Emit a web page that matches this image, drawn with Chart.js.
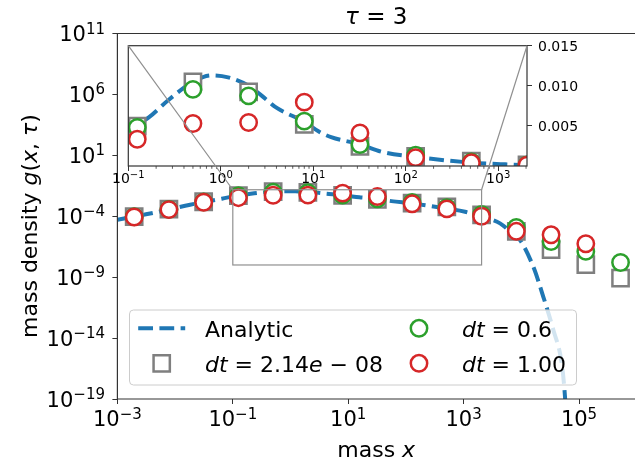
<!DOCTYPE html>
<html>
<head>
<meta charset="utf-8">
<script src="https://cdn.jsdelivr.net/npm/chart.js@4.4.1/dist/chart.umd.min.js"></script>
<style>
    html, body { margin: 0; padding: 0; background: #ffffff; }
    #wrap { position: relative; width: 635px; height: 462px; }
    #wrap canvas { position: absolute; left: 0; top: 0; }
</style>
</head>
<body>
<div id="wrap">
    <canvas id="main-chart" width="635" height="462"></canvas>
    <canvas id="inset-chart" width="635" height="462"></canvas>
</div>
<script>
// -- data --
const massX = [0.001953125, 0.0078125, 0.03125, 0.125, 0.5, 2, 8, 32, 128, 512, 2048, 8192, 32768, 131072, 524288];
const densityDtTiny = [9.5e-5, 3.8e-4, 1.55e-3, 0.00496, 0.0105, 0.00925, 0.0052, 0.00246, 0.00121, 0.0006, 1.3e-4, 5.8e-6, 1.8e-7, 1.05e-8, 8.5e-10];
const densityDt06 = [9.2e-5, 3.7e-4, 1.5e-3, 0.0048, 0.00955, 0.00875, 0.00559, 0.00267, 0.00134, 0.0005, 1.4e-4, 1.2e-5, 8.5e-7, 1.3e-7, 1.6e-8];
const densityDt1 = [8.7e-5, 3.5e-4, 1.4e-3, 0.00334, 0.0053, 0.00542, 0.00796, 0.00413, 0.00105, 0.0004, 1.0e-4, 5.8e-6, 3.0e-6, 5.5e-7, null];

const analyticX = [0.001, 0.00417, 0.0182, 0.0646, 0.125, 0.164, 0.27, 0.5, 0.8, 1.2, 2, 3.1, 3.84, 8, 11.7, 15.6, 32, 56, 128, 512, 1057, 2042, 4276, 8185, 9484, 16140, 24040, 35890, 50120, 57150, 61660];
const analyticG = [5.2e-5, 1.86e-4, 8.9e-4, 2.75e-3, 0.0052, 0.0060, 0.0082, 0.0105, 0.0113, 0.01105, 0.0100, 0.0083, 0.0074, 0.0055, 0.00425, 0.0036, 0.0027, 0.00175, 0.00113, 0.00042, 0.000234, 9.1e-5, 2.6e-5, 1.95e-6, 1.12e-6, 7.1e-9, 2.45e-11, 4.6e-14, 8.3e-17, 1.5e-19, 2.5e-22];

const seriesLabels = ['Analytic', '$dt = 2.14e - 08$', '$dt = 0.6$', '$dt = 1.00$'];

const mainXTicks = [1e-3, 1e-1, 1e1, 1e3, 1e5];
const mainYTicks = [1e-19, 1e-14, 1e-9, 1e-4, 1e1, 1e6, 1e11];
const insetXTicks = [0.1, 1, 10, 100, 1000];
const insetYTicks = [0.005, 0.010, 0.015];

const titleText = '$τ = 3$';
const xTitle = 'mass $x$';
const yTitle = 'mass density $g(x, τ)$';

// axis limits
const mainXMin = 1e-3, mainXMax = Math.pow(10, 5.97);
const mainYMin = 1e-19, mainYMax = 1e11;
const insetXMin = 0.1, insetXMax = 2048;
const insetYMin = 0, insetYMax = 0.015;
const indicatorFloor = 1e-8;

const FONT = '"DejaVu Sans", "Liberation Sans", sans-serif';
const AXIS_COLOR = '#333333';

// -- text helpers --
function fontOf(p) {
    return (p.it ? 'italic ' : '') + p.size + 'px ' + FONT;
}

// "$...$" segments get matplotlib-like math: letters italic, '-' as minus
function textParts(str, size) {
    let parts = [];
    let pieces = str.split('$');
    for (let i = 0; i < pieces.length; i++) {
        if (!pieces[i]) continue;
        if (i % 2 === 0) {
            parts.push({ t: pieces[i], size: size });
        } else {
            let tokens = pieces[i].match(/[A-Za-zτ]+|[^A-Za-zτ]+/g);
            tokens.forEach(function (tok) {
                let isWord = /[A-Za-zτ]/.test(tok);
                parts.push({ t: isWord ? tok : tok.replace(/-/g, '\u2212'), size: size, it: isWord });
            });
        }
    }
    return parts;
}

function powParts(v, size, supSize, raise) {
    let e = Math.round(Math.log10(v));
    let expStr = e < 0 ? '\u2212' + (-e) : String(e);
    return [{ t: '10', size: size }, { t: expStr, size: supSize, dy: -raise }];
}

function drawParts(ctx, parts, x, y, align) {
    let total = 0;
    parts.forEach(function (p) {
        ctx.font = fontOf(p);
        p.w = ctx.measureText(p.t).width;
        total += p.w;
    });
    let cx = align === 'center' ? x - total / 2 : (align === 'right' ? x - total : x);
    ctx.textAlign = 'left';
    ctx.textBaseline = 'alphabetic';
    parts.forEach(function (p) {
        ctx.font = fontOf(p);
        ctx.fillText(p.t, cx, y + (p.dy || 0));
        cx += p.w;
    });
}

function drawMarker(ctx, ds, x, y) {
    let r = ds.pointRadius;
    ctx.save();
    ctx.lineWidth = ds.pointBorderWidth;
    ctx.strokeStyle = ds.pointBorderColor;
    ctx.fillStyle = ds.pointBackgroundColor;
    ctx.beginPath();
    if (ds.pointStyle === 'rect') {
        let h = Math.SQRT1_2 * r;
        ctx.rect(x - h, y - h, 2 * h, 2 * h);
    } else {
        ctx.arc(x, y, r, 0, Math.PI * 2);
    }
    ctx.fill();
    ctx.stroke();
    ctx.restore();
}

function roundedRect(ctx, x, y, w, h, r) {
    ctx.beginPath();
    ctx.moveTo(x + r, y);
    ctx.arcTo(x + w, y, x + w, y + h, r);
    ctx.arcTo(x + w, y + h, x, y + h, r);
    ctx.arcTo(x, y + h, x, y, r);
    ctx.arcTo(x, y, x + w, y, r);
    ctx.closePath();
}

// -- datasets --
function points(xs, ys) {
    let out = [];
    for (let i = 0; i < xs.length; i++) {
        if (ys[i] !== null) out.push({ x: xs[i], y: ys[i] });
    }
    return out;
}

function markerSet(label, ys, color, style, radius) {
    return {
        label: label,
        data: points(massX, ys),
        showLine: false,
        pointStyle: style,
        pointRadius: radius,
        pointHoverRadius: radius,
        pointBorderWidth: 2.5,
        pointHoverBorderWidth: 2.5,
        pointBorderColor: color,
        pointBackgroundColor: '#ffffff',
        clip: 0
    };
}

function buildDatasets() {
    return [
        markerSet(seriesLabels[3], densityDt1, '#d62728', 'circle', 8.2),
        markerSet(seriesLabels[2], densityDt06, '#2ca02c', 'circle', 8.2),
        markerSet(seriesLabels[1], densityDtTiny, '#7f7f7f', 'rect', 11.5),
        {
            label: seriesLabels[0],
            data: points(analyticX, analyticG),
            showLine: true,
            borderColor: '#1f77b4',
            borderWidth: 4,
            borderDash: [14.8, 6.4],
            cubicInterpolationMode: 'monotone',
            pointRadius: 0,
            pointHoverRadius: 0,
            fill: false,
            clip: 0
        }
    ];
}

// legend order: column-major, 2 rows
const legendOrder = [3, 2, 1, 0];

// -- main chart --
const mainPlugin = {
    id: 'mainDecor',
    afterDatasetsDraw: function (chart) {
        let ctx = chart.ctx;
        ctx.save();
        roundedRect(ctx, 129.5, 310, 447, 75, 4);
        ctx.fillStyle = 'rgba(255,255,255,0.8)';
        ctx.fill();
        ctx.strokeStyle = '#cccccc';
        ctx.lineWidth = 1;
        ctx.stroke();

        let colHandle = [161.7, 419];
        let colText = [205, 462];
        let rowY = [328.3, 363.3];
        legendOrder.forEach(function (dsIndex, k) {
            let ds = chart.data.datasets[dsIndex];
            let col = Math.floor(k / 2), row = k % 2;
            let hx = colHandle[col], hy = rowY[row];
            if (ds.showLine) {
                ctx.save();
                ctx.strokeStyle = ds.borderColor;
                ctx.lineWidth = ds.borderWidth;
                ctx.setLineDash(ds.borderDash);
                ctx.beginPath();
                ctx.moveTo(hx - 23.5, hy);
                ctx.lineTo(hx + 23.5, hy);
                ctx.stroke();
                ctx.restore();
            } else {
                drawMarker(ctx, ds, hx, hy);
            }
            ctx.fillStyle = '#000000';
            drawParts(ctx, textParts(ds.label, 22), colText[col], hy + 8.5, 'left');
        });
        ctx.restore();
    },
    afterDraw: function (chart) {
        let ctx = chart.ctx;
        let area = chart.chartArea;
        let xs = chart.scales.x, ys = chart.scales.y;
        ctx.save();

        // frame (right side is off the picture)
        ctx.strokeStyle = AXIS_COLOR;
        ctx.lineWidth = 1.2;
        ctx.beginPath();
        ctx.moveTo(area.right + 2, area.top);
        ctx.lineTo(area.left, area.top);
        ctx.lineTo(area.left, area.bottom);
        ctx.lineTo(area.right + 2, area.bottom);
        ctx.stroke();

        ctx.fillStyle = '#000000';
        mainXTicks.forEach(function (v) {
            drawParts(ctx, powParts(v, 21, 15, 7.5), xs.getPixelForValue(v), 426, 'center');
        });
        mainYTicks.forEach(function (v) {
            drawParts(ctx, powParts(v, 21, 15, 7.5), 105, ys.getPixelForValue(v) + 7.5, 'right');
        });

        // titles
        let midX = (area.left + area.right) / 2;
        drawParts(ctx, textParts(titleText, 23), midX, 24, 'center');
        drawParts(ctx, textParts(xTitle, 22), midX, 456.7, 'center');
        ctx.translate(0, 226);
        ctx.rotate(-Math.PI / 2);
        drawParts(ctx, textParts(yTitle, 22), 0, 36.5, 'center');
        ctx.restore();
    }
};

const mainChart = new Chart(document.getElementById('main-chart'), {
    type: 'scatter',
    data: { datasets: buildDatasets() },
    options: {
        responsive: false,
        animation: false,
        devicePixelRatio: 1,
        events: [],
        layout: { autoPadding: false, padding: { top: 33.5, left: 0, right: 0, bottom: 0 } },
        plugins: { legend: { display: false }, tooltip: { enabled: false }, title: { display: false } },
        scales: {
            x: {
                type: 'logarithmic',
                position: 'bottom',
                min: mainXMin,
                max: mainXMax,
                afterBuildTicks: function (scale) { scale.ticks = mainXTicks.map(function (v) { return { value: v }; }); },
                afterFit: function (scale) { scale.height = 63; },
                ticks: { display: false },
                border: { display: false },
                grid: { drawOnChartArea: false, drawTicks: true, tickLength: 5, color: AXIS_COLOR, lineWidth: 1 }
            },
            y: {
                type: 'logarithmic',
                position: 'left',
                min: mainYMin,
                max: mainYMax,
                afterBuildTicks: function (scale) { scale.ticks = mainYTicks.map(function (v) { return { value: v }; }); },
                afterFit: function (scale) { scale.width = 117.4; },
                ticks: { display: false },
                border: { display: false },
                grid: { drawOnChartArea: false, drawTicks: true, tickLength: 5, color: AXIS_COLOR, lineWidth: 1 }
            }
        }
    },
    plugins: [mainPlugin]
});

// -- inset chart --
const insetPlugin = {
    id: 'insetDecor',
    beforeDraw: function (chart) {
        let a = chart.chartArea;
        chart.ctx.save();
        chart.ctx.fillStyle = '#ffffff';
        chart.ctx.fillRect(a.left, a.top, a.right - a.left, a.bottom - a.top);
        chart.ctx.restore();
    },
    afterDraw: function (chart) {
        let ctx = chart.ctx;
        let a = chart.chartArea;
        let xs = chart.scales.x, ys = chart.scales.y;
        ctx.save();

        ctx.strokeStyle = AXIS_COLOR;
        ctx.lineWidth = 1.2;
        ctx.strokeRect(a.left, a.top, a.right - a.left, a.bottom - a.top);

        // minor ticks on the log axis
        ctx.lineWidth = 0.8;
        ctx.beginPath();
        for (let d = -1; d <= 3; d++) {
            for (let m = 2; m <= 9; m++) {
                let v = m * Math.pow(10, d);
                if (v > insetXMax) continue;
                let px = xs.getPixelForValue(v);
                ctx.moveTo(px, a.bottom);
                ctx.lineTo(px, a.bottom + 2.8);
            }
        }
        ctx.stroke();

        ctx.fillStyle = '#000000';
        insetXTicks.forEach(function (v) {
            drawParts(ctx, powParts(v, 14, 10, 5), xs.getPixelForValue(v), 183, 'center');
        });
        insetYTicks.forEach(function (v) {
            ctx.font = '14px ' + FONT;
            ctx.textAlign = 'left';
            ctx.textBaseline = 'alphabetic';
            ctx.fillText(v.toFixed(3), 538, ys.getPixelForValue(v) + 5);
        });

        // zoom indicator on the main axes + connectors
        let mx = mainChart.scales.x, my = mainChart.scales.y;
        let rx1 = mx.getPixelForValue(insetXMin), rx2 = mx.getPixelForValue(insetXMax);
        let ry1 = my.getPixelForValue(insetYMax), ry2 = my.getPixelForValue(indicatorFloor);
        ctx.strokeStyle = '#909090';
        ctx.lineWidth = 1.2;
        ctx.strokeRect(rx1, ry1, rx2 - rx1, ry2 - ry1);
        ctx.beginPath();
        ctx.moveTo(a.left, a.top);
        ctx.lineTo(rx1, ry1);
        ctx.moveTo(a.right, a.top);
        ctx.lineTo(rx2, ry1);
        ctx.stroke();
        ctx.restore();
    }
};

const insetChart = new Chart(document.getElementById('inset-chart'), {
    type: 'scatter',
    data: { datasets: buildDatasets() },
    options: {
        responsive: false,
        animation: false,
        devicePixelRatio: 1,
        events: [],
        layout: { autoPadding: false, padding: { top: 45.7, left: 128.3, right: 0, bottom: 0 } },
        plugins: { legend: { display: false }, tooltip: { enabled: false }, title: { display: false } },
        scales: {
            x: {
                type: 'logarithmic',
                position: 'bottom',
                min: insetXMin,
                max: insetXMax,
                afterBuildTicks: function (scale) { scale.ticks = insetXTicks.map(function (v) { return { value: v }; }); },
                afterFit: function (scale) { scale.height = 462 - 166; },
                ticks: { display: false },
                border: { display: false },
                grid: { drawOnChartArea: false, drawTicks: true, tickLength: 5, color: AXIS_COLOR, lineWidth: 1 }
            },
            y: {
                type: 'linear',
                position: 'right',
                min: insetYMin,
                max: insetYMax,
                afterBuildTicks: function (scale) { scale.ticks = insetYTicks.map(function (v) { return { value: v }; }); },
                afterFit: function (scale) { scale.width = 635 - 527; },
                ticks: { display: false },
                border: { display: false },
                grid: { drawOnChartArea: false, drawTicks: true, tickLength: 5, color: AXIS_COLOR, lineWidth: 1 }
            }
        }
    },
    plugins: [insetPlugin]
});
</script>
</body>
</html>
